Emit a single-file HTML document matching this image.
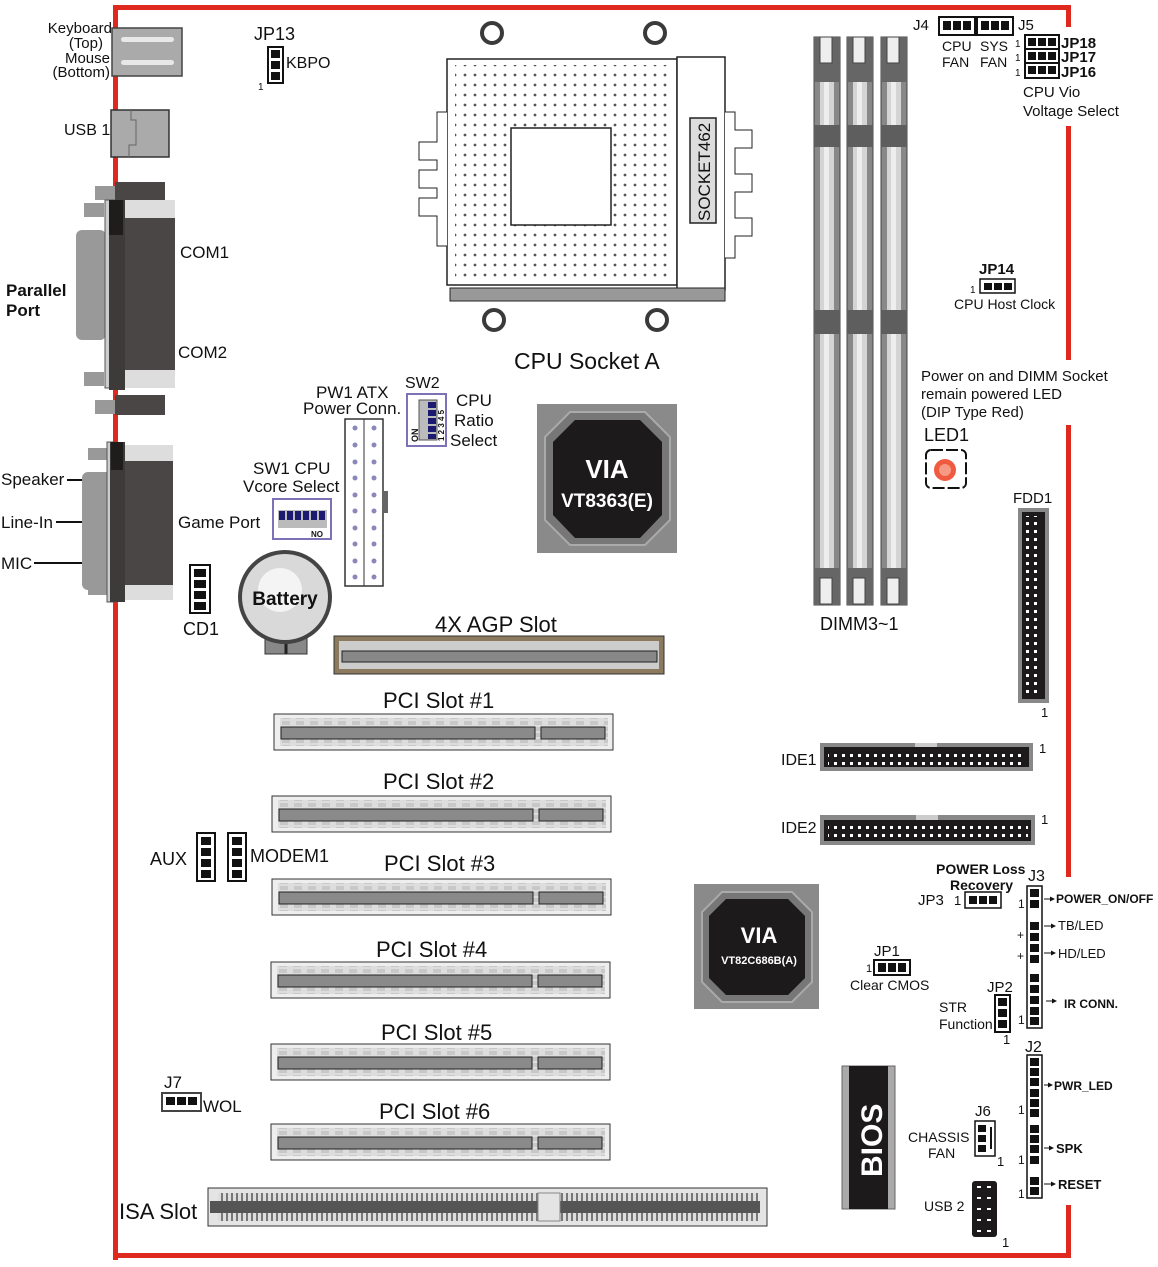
<!DOCTYPE html>
<html><head><meta charset="utf-8"><style>
html,body{margin:0;padding:0;background:#fff;}
svg{display:block;}
text{font-family:"Liberation Sans",Arial,sans-serif;fill:#111;}
.b{font-weight:bold;}
</style></head><body>
<svg width="1158" height="1267" viewBox="0 0 1158 1267" xmlns="http://www.w3.org/2000/svg">
<defs>
<pattern id="dots" width="10" height="10" patternUnits="userSpaceOnUse"><circle cx="5" cy="5" r="1.4" fill="#555"/></pattern>
<pattern id="pinrow" width="8" height="8" patternUnits="userSpaceOnUse"><rect x="2" y="2" width="3" height="3" fill="#fff"/></pattern>
<pattern id="slotp" width="14" height="6" patternUnits="userSpaceOnUse"><rect width="14" height="6" fill="#ddd"/><rect x="2" y="1" width="8" height="4" fill="#c8c8c8"/></pattern>
<pattern id="isap" width="5" height="6" patternUnits="userSpaceOnUse"><rect width="5" height="6" fill="#ddd"/><rect x="1" width="2" height="6" fill="#777"/></pattern>
<marker id="ah" markerWidth="5" markerHeight="5" refX="4" refY="2.5" orient="auto"><path d="M0,0 L5,2.5 L0,5z" fill="#111"/></marker>
</defs>

<!-- red border -->
<g fill="#e0291e">
<rect x="113" y="5" width="958" height="5"/>
<rect x="113" y="5" width="5" height="1255"/>
<rect x="113" y="1253" width="958" height="5"/>
<rect x="1066" y="5" width="5" height="22"/>
<rect x="1066" y="126" width="5" height="234"/>
<rect x="1066" y="425" width="5" height="452"/>
<rect x="1066" y="1205" width="5" height="53"/>
</g>

<!-- keyboard / mouse -->
<rect x="112" y="28" width="70" height="48" fill="#aaa" stroke="#444" stroke-width="1.5"/>
<rect x="121" y="37" width="53" height="5" rx="2.5" fill="#e8e8e8"/>
<rect x="121" y="60" width="53" height="5" rx="2.5" fill="#e8e8e8"/>
<text x="112" y="33" font-size="15" text-anchor="end">Keyboard</text>
<text x="103" y="48" font-size="15" text-anchor="end">(Top)</text>
<text x="110" y="63" font-size="15" text-anchor="end">Mouse</text>
<text x="110" y="77" font-size="15" text-anchor="end">(Bottom)</text>
<!-- USB1 -->
<rect x="111" y="110" width="58" height="47" fill="#aaa" stroke="#333" stroke-width="1.5"/>
<path d="M131 110v10h5v25h-7v12" fill="none" stroke="#666"/>
<text x="64" y="135" font-size="16">USB 1</text>

<!-- COM connectors / parallel -->
<rect x="95" y="186" width="20" height="14" fill="#999"/>
<rect x="115" y="182" width="50" height="20" fill="#4a4646"/>
<rect x="84" y="203" width="20" height="14" fill="#999"/>
<rect x="76" y="230" width="30" height="110" fill="#999" rx="6"/>
<rect x="105" y="200" width="10" height="188" fill="#ccc" stroke="#555"/>
<rect x="109" y="200" width="16" height="190" fill="#3d3a3a"/>
<rect x="109" y="200" width="14" height="35" fill="#1f1c1c"/>
<rect x="125" y="200" width="50" height="185" fill="#4a4646"/>
<rect x="125" y="200" width="50" height="18" fill="#ddd"/>
<rect x="125" y="370" width="50" height="18" fill="#ddd"/>
<rect x="84" y="372" width="20" height="14" fill="#999"/>
<rect x="95" y="400" width="20" height="14" fill="#999"/>
<rect x="115" y="395" width="50" height="20" fill="#4a4646"/>
<text x="180" y="258" font-size="17">COM1</text>
<text x="178" y="358" font-size="17">COM2</text>
<text x="6" y="296" font-size="17" class="b">Parallel</text>
<text x="6" y="316" font-size="17" class="b">Port</text>

<!-- game port -->
<rect x="88" y="448" width="20" height="12" fill="#999"/>
<rect x="82" y="472" width="30" height="118" fill="#999" rx="6"/>
<rect x="88" y="583" width="20" height="12" fill="#999"/>
<rect x="107" y="442" width="8" height="160" fill="#ccc" stroke="#555"/>
<rect x="110" y="442" width="15" height="160" fill="#3d3a3a"/>
<rect x="111" y="442" width="12" height="28" fill="#1f1c1c"/>
<rect x="125" y="445" width="48" height="155" fill="#4a4646"/>
<rect x="125" y="445" width="48" height="16" fill="#ddd"/>
<rect x="125" y="585" width="48" height="15" fill="#ddd"/>
<text x="1" y="485" font-size="17">Speaker</text>
<line x1="67" y1="480" x2="82" y2="480" stroke="#111" stroke-width="2"/>
<text x="1" y="528" font-size="17">Line-In</text>
<line x1="56" y1="522" x2="82" y2="522" stroke="#111" stroke-width="2"/>
<text x="1" y="569" font-size="17">MIC</text>
<line x1="34" y1="563" x2="82" y2="563" stroke="#111" stroke-width="2"/>
<text x="178" y="528" font-size="17">Game Port</text>

<!-- CD1 -->
<rect x="190" y="565" width="20" height="48" fill="#fff" stroke="#111" stroke-width="2"/>
<g fill="#111"><rect x="194" y="569" width="12" height="8"/><rect x="194" y="580" width="12" height="8"/><rect x="194" y="591" width="12" height="8"/><rect x="194" y="602" width="12" height="8"/></g>
<text x="183" y="635" font-size="18">CD1</text>

<!-- JP13 -->
<text x="254" y="40" font-size="18">JP13</text>
<rect x="268" y="47" width="15" height="36" fill="#fff" stroke="#111" stroke-width="2"/>
<g fill="#111"><rect x="271" y="50" width="9" height="8"/><rect x="271" y="61" width="9" height="8"/><rect x="271" y="72" width="9" height="8"/></g>
<text x="286" y="68" font-size="16">KBPO</text>
<text x="258" y="90" font-size="10">1</text>

<!-- CPU socket -->
<g fill="none" stroke="#3a3a3a" stroke-width="4">
<circle cx="492" cy="33" r="10"/><circle cx="655" cy="33" r="10"/>
<circle cx="494" cy="320" r="10"/><circle cx="657" cy="320" r="10"/>
</g>
<rect x="447" y="59" width="230" height="226" fill="#fff" stroke="#222" stroke-width="1.5"/>
<rect x="455" y="65" width="215" height="213" fill="url(#dots)"/>
<rect x="511" y="128" width="100" height="97" fill="#fff" stroke="#222" stroke-width="1.5"/>
<rect x="677" y="57" width="48" height="233" fill="#fff" stroke="#222" stroke-width="1.5"/>
<rect x="690" y="118" width="26" height="105" fill="#ddd" stroke="#222" stroke-width="1.5"/>
<text transform="translate(710,221) rotate(-90)" font-size="17">SOCKET462</text>
<rect x="450" y="288" width="275" height="13" fill="#999" stroke="#222"/>
<g fill="#fff" stroke="#222">
<path d="M447 112h-10v30h-18v18h18v10h-18v18h18v10h-18v18h18v30h10" />
<path d="M725 112h10v18h17v18h-17v26h17v18h-17v26h17v18h-17v22h-10"/>
</g>
<text x="514" y="369" font-size="23">CPU Socket A</text>

<!-- North bridge -->
<rect x="537" y="404" width="140" height="149" fill="#8a8a8a"/>
<polygon points="570,412 645,412 670,437 670,520 645,545 570,545 545,520 545,437" fill="#777" stroke="#aaa" stroke-width="2"/>
<polygon points="575,420 640,420 662,442 662,515 640,538 575,538 553,515 553,442" fill="#1c1a1a"/>
<text x="607" y="478" font-size="26" class="b" text-anchor="middle" style="fill:#fff">VIA</text>
<text x="607" y="507" font-size="19" class="b" text-anchor="middle" style="fill:#fff">VT8363(E)</text>

<!-- PW1 -->
<text x="316" y="398" font-size="17">PW1 ATX</text>
<text x="303" y="414" font-size="17">Power Conn.</text>
<rect x="345" y="419" width="38" height="167" fill="#fff" stroke="#333" stroke-width="1.5"/>
<line x1="364" y1="419" x2="364" y2="586" stroke="#333"/>
<g fill="#8a88b8">
<circle cx="355" cy="428" r="2.5"/><circle cx="374" cy="428" r="2.5"/>
<circle cx="355" cy="445" r="2.5"/><circle cx="374" cy="445" r="2.5"/>
<circle cx="355" cy="462" r="2.5"/><circle cx="374" cy="462" r="2.5"/>
<circle cx="355" cy="478" r="2.5"/><circle cx="374" cy="478" r="2.5"/>
<circle cx="355" cy="495" r="2.5"/><circle cx="374" cy="495" r="2.5"/>
<circle cx="355" cy="511" r="2.5"/><circle cx="374" cy="511" r="2.5"/>
<circle cx="355" cy="528" r="2.5"/><circle cx="374" cy="528" r="2.5"/>
<circle cx="355" cy="544" r="2.5"/><circle cx="374" cy="544" r="2.5"/>
<circle cx="355" cy="561" r="2.5"/><circle cx="374" cy="561" r="2.5"/>
<circle cx="355" cy="577" r="2.5"/><circle cx="374" cy="577" r="2.5"/>
</g>
<rect x="383" y="491" width="5" height="22" fill="#666"/>

<!-- SW2 -->
<text x="405" y="388" font-size="16">SW2</text>
<rect x="407" y="394" width="39" height="52" fill="#fff" stroke="#7d72b8" stroke-width="2"/>
<rect x="419" y="400" width="18" height="40" fill="#bbb" stroke="#555"/>
<g fill="#1c1a70"><rect x="428" y="402" width="8" height="6"/><rect x="428" y="410" width="8" height="6"/><rect x="428" y="418" width="8" height="6"/><rect x="428" y="426" width="8" height="6"/><rect x="428" y="434" width="8" height="5"/></g>
<text transform="translate(418,442) rotate(-90)" font-size="9" class="b">ON</text>
<text transform="translate(444,441) rotate(-90)" font-size="8" class="b">1 2 3 4 5</text>
<text x="456" y="406" font-size="17">CPU</text>
<text x="454" y="426" font-size="17">Ratio</text>
<text x="450" y="446" font-size="17">Select</text>

<!-- SW1 -->
<text x="253" y="474" font-size="17">SW1 CPU</text>
<text x="243" y="492" font-size="17">Vcore Select</text>
<rect x="273" y="499" width="58" height="40" fill="#fff" stroke="#7d72b8" stroke-width="2"/>
<rect x="278" y="510" width="49" height="18" fill="#bbb"/>
<g fill="#1c1a70"><rect x="279" y="511" width="6" height="9"/><rect x="287" y="511" width="6" height="9"/><rect x="295" y="511" width="6" height="9"/><rect x="303" y="511" width="6" height="9"/><rect x="311" y="511" width="6" height="9"/><rect x="319" y="511" width="6" height="9"/></g>
<text x="311" y="537" font-size="8" class="b">NO</text>

<!-- Battery -->
<rect x="265" y="630" width="42" height="24" fill="#888" stroke="#333"/>
<line x1="286" y1="636" x2="286" y2="654" stroke="#222" stroke-width="3"/>
<line x1="268" y1="636" x2="304" y2="636" stroke="#222" stroke-width="2"/>
<circle cx="285" cy="597" r="45" fill="#d9d9d9" stroke="#444" stroke-width="4"/>
<circle cx="280" cy="590" r="22" fill="#f4f4f4"/>
<text x="285" y="605" font-size="19" class="b" text-anchor="middle">Battery</text>

<!-- AGP -->
<text x="435" y="632" font-size="22">4X AGP Slot</text>
<rect x="334" y="636" width="330" height="38" fill="#8c7a5e" stroke="#333"/>
<rect x="339" y="641" width="320" height="28" fill="#ccc"/>
<rect x="342" y="651" width="315" height="11" fill="#888" stroke="#222"/>

<!-- PCI slots -->
<g id="pci1">
<rect x="274" y="714" width="339" height="36" fill="#eee" stroke="#333"/>
<rect x="280" y="718" width="328" height="28" fill="url(#slotp)"/>
<rect x="281" y="727" width="254" height="12" fill="#8a8a8a" stroke="#222"/>
<rect x="541" y="727" width="64" height="12" fill="#8a8a8a" stroke="#222"/>
</g>
<text x="383" y="708" font-size="22">PCI Slot #1</text>
<use href="#pci1" transform="translate(-2,82)"/>
<text x="383" y="789" font-size="22">PCI Slot #2</text>
<use href="#pci1" transform="translate(-2,165)"/>
<text x="384" y="871" font-size="22">PCI Slot #3</text>
<use href="#pci1" transform="translate(-3,248)"/>
<text x="376" y="957" font-size="22">PCI Slot #4</text>
<use href="#pci1" transform="translate(-3,330)"/>
<text x="381" y="1040" font-size="22">PCI Slot #5</text>
<use href="#pci1" transform="translate(-3,410)"/>
<text x="379" y="1119" font-size="22">PCI Slot #6</text>

<!-- AUX / MODEM -->
<text x="150" y="865" font-size="18">AUX</text>
<rect x="197" y="833" width="18" height="48" fill="#fff" stroke="#111" stroke-width="2"/>
<g fill="#111"><rect x="201" y="837" width="10" height="8"/><rect x="201" y="848" width="10" height="8"/><rect x="201" y="859" width="10" height="8"/><rect x="201" y="870" width="10" height="8"/></g>
<rect x="228" y="833" width="18" height="48" fill="#fff" stroke="#111" stroke-width="2"/>
<g fill="#111"><rect x="232" y="837" width="10" height="8"/><rect x="232" y="848" width="10" height="8"/><rect x="232" y="859" width="10" height="8"/><rect x="232" y="870" width="10" height="8"/></g>
<text x="250" y="862" font-size="18">MODEM1</text>

<!-- J7 WOL -->
<text x="164" y="1088" font-size="17">J7</text>
<rect x="162" y="1093" width="39" height="18" fill="#fff" stroke="#444" stroke-width="2"/>
<g fill="#111"><rect x="166" y="1097" width="9" height="8"/><rect x="177" y="1097" width="9" height="8"/><rect x="188" y="1097" width="9" height="8"/></g>
<text x="203" y="1112" font-size="17">WOL</text>

<!-- ISA -->
<text x="119" y="1219" font-size="22">ISA Slot</text>
<rect x="208" y="1188" width="559" height="38" fill="#e4e4e4" stroke="#333"/>
<rect x="218" y="1193" width="540" height="28" fill="url(#isap)"/>
<rect x="210" y="1201" width="550" height="12" fill="#555"/>
<rect x="538" y="1193" width="22" height="28" fill="#e4e4e4" stroke="#888"/>

<!-- DIMMs -->
<g id="dimm">
<rect x="814" y="37" width="26" height="568" fill="#888" stroke="#444"/>
<rect x="820" y="80" width="14" height="515" fill="#d4d4d4"/>
<rect x="824" y="80" width="5" height="515" fill="#eee"/>
<rect x="814" y="37" width="26" height="45" fill="#666"/>
<rect x="820" y="37" width="12" height="26" fill="#eee" stroke="#444"/>
<rect x="814" y="125" width="26" height="22" fill="#5e5e5e"/>
<rect x="814" y="310" width="26" height="24" fill="#5e5e5e"/>
<rect x="814" y="568" width="26" height="37" fill="#666"/>
<rect x="820" y="578" width="12" height="26" fill="#eee" stroke="#444"/>
</g>
<use href="#dimm" transform="translate(33,0)"/>
<use href="#dimm" transform="translate(67,0)"/>
<text x="820" y="630" font-size="18">DIMM3~1</text>

<!-- J4 J5 -->
<text x="913" y="30" font-size="15">J4</text>
<rect x="939" y="17" width="36" height="18" fill="#fff" stroke="#111" stroke-width="2"/>
<rect x="977" y="17" width="36" height="18" fill="#fff" stroke="#111" stroke-width="2"/>
<g fill="#111"><rect x="943" y="21" width="8" height="9"/><rect x="953" y="21" width="8" height="9"/><rect x="963" y="21" width="8" height="9"/><rect x="981" y="21" width="8" height="9"/><rect x="991" y="21" width="8" height="9"/><rect x="1001" y="21" width="8" height="9"/></g>
<text x="1018" y="30" font-size="15">J5</text>
<text x="942" y="51" font-size="14">CPU</text><text x="980" y="51" font-size="14">SYS</text>
<text x="942" y="67" font-size="14">FAN</text><text x="980" y="67" font-size="14">FAN</text>
<!-- JP18/17/16 -->
<g>
<rect x="1025" y="35" width="34" height="43" fill="#fff" stroke="#111" stroke-width="2"/>
<line x1="1025" y1="49" x2="1059" y2="49" stroke="#111" stroke-width="2"/>
<line x1="1025" y1="63" x2="1059" y2="63" stroke="#111" stroke-width="2"/>
<g fill="#111"><rect x="1028" y="38" width="8" height="8"/><rect x="1038" y="38" width="8" height="8"/><rect x="1048" y="38" width="8" height="8"/>
<rect x="1028" y="52" width="8" height="8"/><rect x="1038" y="52" width="8" height="8"/><rect x="1048" y="52" width="8" height="8"/>
<rect x="1028" y="66" width="8" height="8"/><rect x="1038" y="66" width="8" height="8"/><rect x="1048" y="66" width="8" height="8"/></g>
</g>
<text x="1015" y="47" font-size="10">1</text><text x="1015" y="61" font-size="10">1</text><text x="1015" y="76" font-size="10">1</text>
<text x="1061" y="48" font-size="15" class="b">JP18</text>
<text x="1061" y="62" font-size="15" class="b">JP17</text>
<text x="1061" y="77" font-size="15" class="b">JP16</text>
<text x="1023" y="97" font-size="15">CPU Vio</text>
<text x="1023" y="116" font-size="15">Voltage Select</text>

<!-- JP14 -->
<text x="979" y="274" font-size="15" class="b">JP14</text>
<text x="970" y="293" font-size="10">1</text>
<rect x="980" y="279" width="35" height="14" fill="#fff" stroke="#111" stroke-width="1.5"/>
<g fill="#111"><rect x="984" y="283" width="8" height="7"/><rect x="994" y="283" width="8" height="7"/><rect x="1004" y="283" width="8" height="7"/></g>
<text x="954" y="309" font-size="14">CPU Host Clock</text>

<!-- LED text -->
<text x="921" y="381" font-size="15">Power on and DIMM Socket</text>
<text x="921" y="399" font-size="15">remain powered LED</text>
<text x="921" y="417" font-size="15">(DIP Type Red)</text>
<text x="924" y="441" font-size="18">LED1</text>
<rect x="926" y="450" width="40" height="38" rx="5" fill="#fff" stroke="#111" stroke-width="2" stroke-dasharray="12 3"/>
<circle cx="945" cy="470" r="11" fill="#f05a40"/>
<circle cx="945" cy="470" r="6" fill="#f59a85"/>

<!-- FDD1 -->
<text x="1013" y="503" font-size="15">FDD1</text>
<rect x="1018" y="508" width="31" height="195" fill="#888"/>
<rect x="1022" y="512" width="23" height="187" fill="#1c1a1a"/>
<rect x="1026" y="516" width="16" height="180" fill="url(#pinrow)"/>
<text x="1041" y="717" font-size="13">1</text>

<!-- IDE -->
<text x="781" y="765" font-size="16">IDE1</text>
<rect x="820" y="743" width="213" height="28" fill="#888"/>
<rect x="824" y="747" width="205" height="20" fill="#1c1a1a"/>
<rect x="828" y="750" width="198" height="15" fill="url(#pinrow)"/>
<rect x="915" y="743" width="22" height="4" fill="#ccc"/>
<text x="1039" y="753" font-size="13">1</text>
<text x="781" y="833" font-size="16">IDE2</text>
<rect x="820" y="815" width="215" height="30" fill="#888"/>
<rect x="824" y="820" width="207" height="21" fill="#1c1a1a"/>
<rect x="828" y="823" width="200" height="15" fill="url(#pinrow)"/>
<rect x="916" y="815" width="22" height="5" fill="#ccc"/>
<text x="1041" y="824" font-size="13">1</text>

<!-- South bridge -->
<rect x="694" y="884" width="125" height="125" fill="#8a8a8a"/>
<polygon points="722,892 792,892 812,912 812,982 792,1002 722,1002 702,982 702,912" fill="#777" stroke="#aaa" stroke-width="2"/>
<polygon points="726,899 788,899 805,916 805,978 788,995 726,995 709,978 709,916" fill="#1c1a1a"/>
<text x="759" y="943" font-size="22" class="b" text-anchor="middle" style="fill:#fff">VIA</text>
<text x="759" y="964" font-size="11" class="b" text-anchor="middle" style="fill:#fff">VT82C686B(A)</text>

<!-- JP3 -->
<text x="936" y="874" font-size="14" class="b">POWER Loss</text>
<text x="950" y="890" font-size="14" class="b">Recovery</text>
<text x="918" y="905" font-size="15">JP3</text>
<text x="954" y="905" font-size="13">1</text>
<rect x="965" y="892" width="36" height="16" fill="#fff" stroke="#111" stroke-width="1.5"/>
<g fill="#111"><rect x="969" y="896" width="8" height="8"/><rect x="979" y="896" width="8" height="8"/><rect x="989" y="896" width="8" height="8"/></g>

<!-- JP1 -->
<text x="874" y="956" font-size="15">JP1</text>
<text x="866" y="972" font-size="11">1</text>
<rect x="874" y="960" width="36" height="15" fill="#fff" stroke="#111" stroke-width="2"/>
<g fill="#111"><rect x="878" y="963" width="8" height="9"/><rect x="888" y="963" width="8" height="9"/><rect x="898" y="963" width="8" height="9"/></g>
<text x="850" y="990" font-size="14">Clear CMOS</text>

<!-- JP2 -->
<text x="987" y="992" font-size="15">JP2</text>
<text x="939" y="1012" font-size="14">STR</text>
<text x="939" y="1029" font-size="14">Function</text>
<rect x="995" y="995" width="15" height="37" fill="#fff" stroke="#111" stroke-width="2"/>
<g fill="#111"><rect x="998" y="998" width="9" height="8"/><rect x="998" y="1009" width="9" height="8"/><rect x="998" y="1020" width="9" height="8"/></g>
<text x="1003" y="1044" font-size="13">1</text>

<!-- J3 -->
<text x="1028" y="881" font-size="16">J3</text>
<rect x="1027" y="886" width="15" height="142" fill="#fff" stroke="#111" stroke-width="1.5"/>
<g fill="#111">
<rect x="1030" y="889" width="9" height="8"/><rect x="1030" y="900" width="9" height="8"/>
<rect x="1030" y="922" width="9" height="8"/><rect x="1030" y="933" width="9" height="8"/><rect x="1030" y="944" width="9" height="8"/><rect x="1030" y="955" width="9" height="8"/>
<rect x="1030" y="974" width="9" height="8"/><rect x="1030" y="985" width="9" height="8"/><rect x="1030" y="996" width="9" height="8"/><rect x="1030" y="1007" width="9" height="8"/><rect x="1030" y="1017" width="9" height="8"/>
</g>
<text x="1018" y="908" font-size="12">1</text>
<text x="1017" y="939" font-size="12">+</text>
<text x="1017" y="960" font-size="12">+</text>
<text x="1018" y="1024" font-size="12">1</text>
<g stroke="#111" stroke-width="1" marker-end="url(#ah)"><line x1="1044" y1="899" x2="1054" y2="899"/><line x1="1044" y1="926" x2="1055" y2="926"/><line x1="1044" y1="953" x2="1055" y2="953"/><line x1="1046" y1="1001" x2="1056" y2="1001"/></g>
<text x="1056" y="903" font-size="12" class="b">POWER_ON/OFF</text>
<text x="1058" y="930" font-size="13">TB/LED</text>
<text x="1058" y="958" font-size="13">HD/LED</text>
<text x="1064" y="1008" font-size="12" class="b">IR CONN.</text>

<!-- J2 -->
<text x="1025" y="1052" font-size="16">J2</text>
<rect x="1027" y="1055" width="15" height="143" fill="#fff" stroke="#111" stroke-width="1.5"/>
<g fill="#111">
<rect x="1030" y="1058" width="9" height="8"/><rect x="1030" y="1068" width="9" height="8"/><rect x="1030" y="1078" width="9" height="8"/><rect x="1030" y="1089" width="9" height="8"/><rect x="1030" y="1099" width="9" height="8"/><rect x="1030" y="1109" width="9" height="8"/>
<rect x="1030" y="1125" width="9" height="8"/><rect x="1030" y="1135" width="9" height="8"/><rect x="1030" y="1145" width="9" height="8"/><rect x="1030" y="1156" width="9" height="8"/>
<rect x="1030" y="1177" width="9" height="8"/><rect x="1030" y="1187" width="9" height="8"/>
</g>
<text x="1018" y="1114" font-size="12">1</text>
<text x="1018" y="1164" font-size="12">1</text>
<text x="1018" y="1198" font-size="12">1</text>
<g stroke="#111" marker-end="url(#ah)"><line x1="1044" y1="1085" x2="1052" y2="1085"/><line x1="1044" y1="1148" x2="1053" y2="1148"/><line x1="1044" y1="1184" x2="1055" y2="1184"/></g>
<text x="1054" y="1090" font-size="12" class="b">PWR_LED</text>
<text x="1056" y="1153" font-size="13" class="b">SPK</text>
<text x="1058" y="1189" font-size="13" class="b">RESET</text>

<!-- BIOS -->
<rect x="842" y="1066" width="53" height="143" fill="#aaa" stroke="#666"/>
<rect x="849" y="1066" width="39" height="143" fill="#1c1a1a"/>
<text transform="translate(882,1177) rotate(-90)" font-size="30" class="b" style="fill:#fff">BIOS</text>

<!-- J6 -->
<text x="975" y="1116" font-size="15">J6</text>
<text x="908" y="1142" font-size="14">CHASSIS</text>
<text x="928" y="1158" font-size="14">FAN</text>
<rect x="975" y="1121" width="20" height="35" fill="#fff" stroke="#111" stroke-width="1.5"/>
<g fill="#111"><rect x="978" y="1125" width="8" height="7"/><rect x="978" y="1135" width="8" height="7"/><rect x="978" y="1145" width="8" height="7"/></g>
<rect x="990" y="1127" width="2" height="22" fill="#111"/>
<text x="997" y="1166" font-size="13">1</text>

<!-- USB2 -->
<text x="924" y="1211" font-size="14">USB 2</text>
<rect x="972" y="1181" width="25" height="56" rx="3" fill="#1c1a1a"/>
<g fill="#fff"><rect x="977" y="1186" width="4" height="2"/><rect x="987" y="1186" width="4" height="2"/><rect x="977" y="1197" width="4" height="2"/><rect x="987" y="1197" width="4" height="2"/><rect x="977" y="1208" width="4" height="2"/><rect x="987" y="1208" width="4" height="2"/><rect x="977" y="1219" width="4" height="2"/><rect x="987" y="1219" width="4" height="2"/><rect x="977" y="1230" width="4" height="2"/><rect x="987" y="1230" width="4" height="2"/></g>
<text x="1002" y="1247" font-size="13">1</text>
</svg>
</body></html>
